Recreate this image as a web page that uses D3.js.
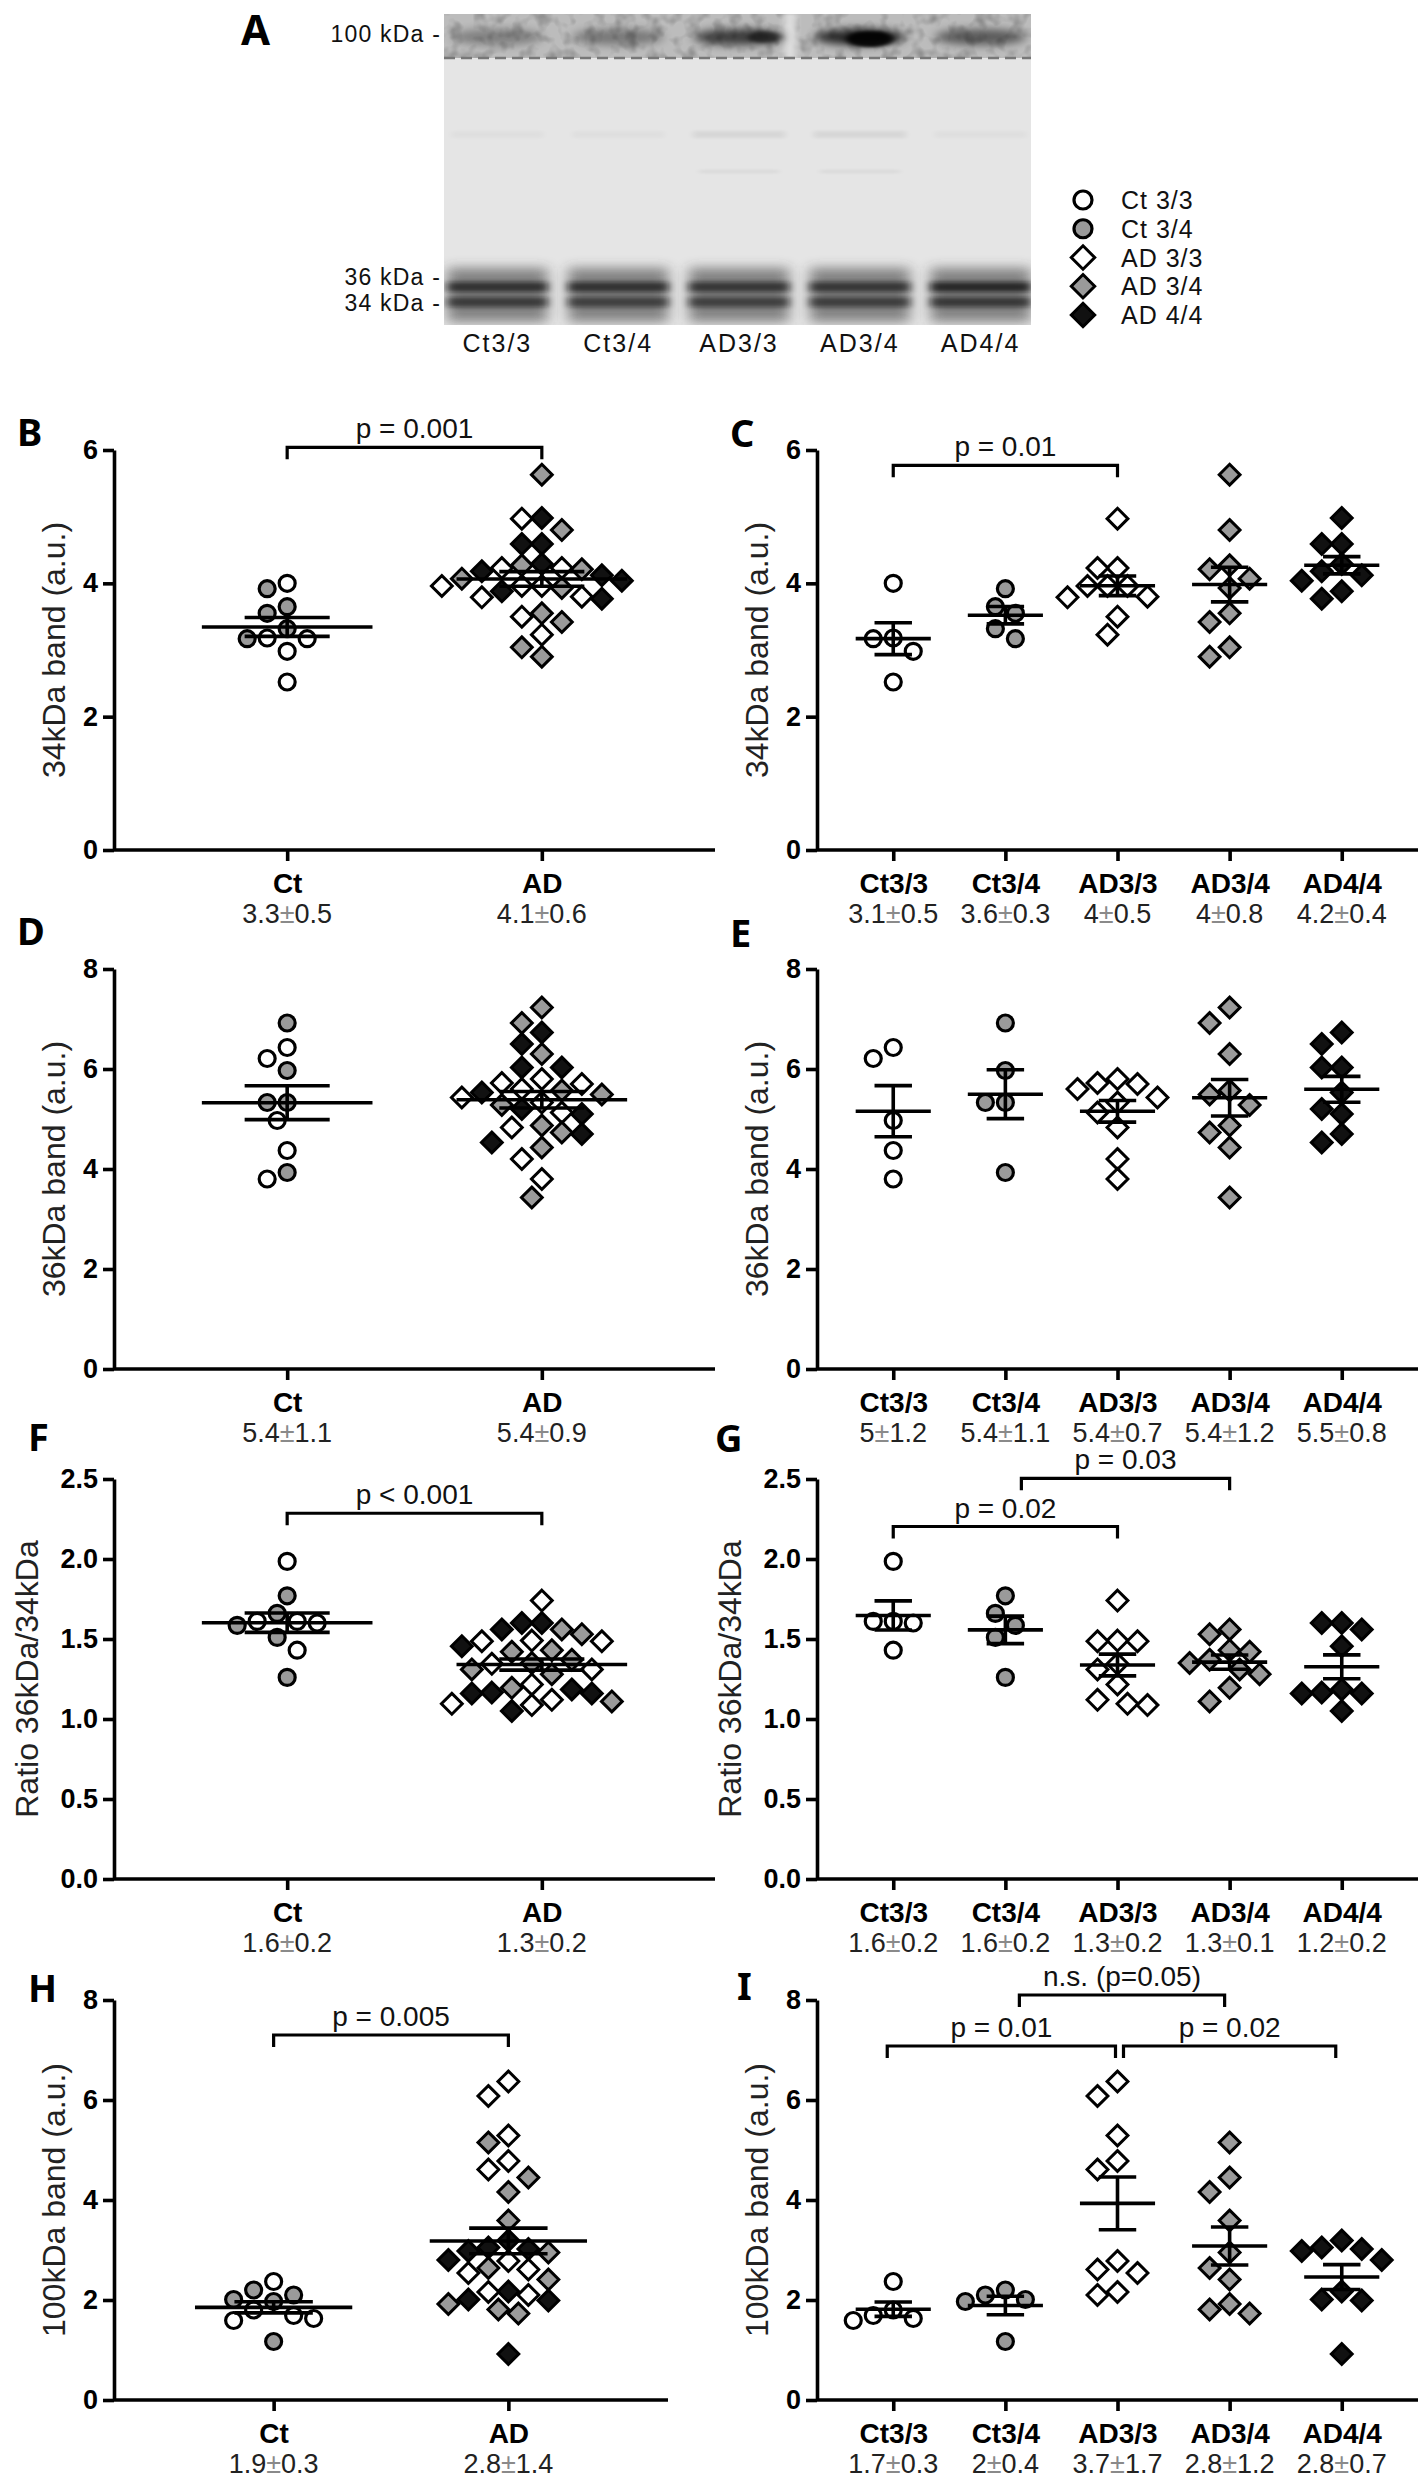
<!DOCTYPE html>
<html><head><meta charset="utf-8">
<script src="https://cdn.jsdelivr.net/npm/d3@7"></script>
<style>body{margin:0;background:#fff} svg{display:block}</style>
</head><body><svg id="fig" width="1422" height="2480"></svg>
<script>
// ---------------- DATA ----------------
const genotypes = ["Ct3/3","Ct3/4","AD3/3","AD3/4","AD4/4"];
const legendLabels = ["Ct 3/3","Ct 3/4","AD 3/3","AD 3/4","AD 4/4"];
const diagnoses = ["Ct","AD"];

// 34 kDa band (a.u.)
const b34_ct33 = [4.00, 3.17, 3.18, 2.98, 2.52];
const b34_ct34 = [3.92, 3.65, 3.55, 3.32, 3.17];
const b34_ad33 = [4.97, 4.23, 4.23, 3.96, 3.96, 3.96, 3.80, 3.79, 3.50, 3.23];
const b34_ad34 = [5.63, 4.80, 4.27, 4.21, 4.07, 3.93, 3.55, 3.42, 3.04, 2.90];
const b34_ad44 = [4.98, 4.59, 4.59, 4.29, 4.18, 4.12, 4.04, 3.88, 3.77];
// 36 kDa band (a.u.)
const b36_ct33 = [6.43, 6.21, 4.97, 4.37, 3.80];
const b36_ct34 = [6.92, 5.97, 5.33, 5.33, 3.93];
const b36_ad33 = [5.80, 5.72, 5.70, 5.60, 5.43, 5.33, 5.13, 4.83, 4.20, 3.80];
const b36_ad34 = [7.23, 6.92, 6.30, 5.57, 5.49, 5.28, 4.87, 4.73, 4.43, 3.43];
const b36_ad44 = [6.73, 6.50, 6.03, 6.03, 5.53, 5.20, 5.10, 4.70, 4.53];
// Ratio 36kDa/34kDa
const rat_ct33 = [1.985, 1.61, 1.61, 1.60, 1.43];
const rat_ct34 = [1.77, 1.66, 1.585, 1.51, 1.26];
const rat_ad33 = [1.74, 1.49, 1.486, 1.486, 1.345, 1.31, 1.216, 1.12, 1.095, 1.087];
const rat_ad34 = [1.56, 1.53, 1.43, 1.42, 1.37, 1.35, 1.31, 1.28, 1.195, 1.11];
const rat_ad44 = [1.60, 1.60, 1.56, 1.455, 1.185, 1.165, 1.16, 1.16, 1.05];
// 100 kDa band (a.u.)
const b100_ct33 = [2.37, 1.80, 1.69, 1.63, 1.59];
const b100_ct34 = [2.20, 2.10, 2.01, 1.97, 1.17];
const b100_ad33 = [6.37, 6.08, 5.29, 4.78, 4.61, 2.78, 2.61, 2.54, 2.16, 2.10];
const b100_ad34 = [5.15, 4.45, 4.16, 3.59, 2.95, 2.64, 2.41, 1.92, 1.81, 1.73];
const b100_ad44 = [3.19, 3.05, 3.02, 2.98, 2.80, 2.17, 2.01, 1.99, 0.92];

// tick values
const ticks34 = [0, 2, 4, 6];
const ticks36 = [0, 2, 4, 6, 8];
const ticksRatio = [0, 0.5, 1.0, 1.5, 2.0, 2.5];
const ticks100 = [0, 2, 4, 6, 8];

// summary labels under categories
const stats34_dx = ["3.3±0.5", "4.1±0.6"];
const stats34_gt = ["3.1±0.5", "3.6±0.3", "4±0.5", "4±0.8", "4.2±0.4"];
const stats36_dx = ["5.4±1.1", "5.4±0.9"];
const stats36_gt = ["5±1.2", "5.4±1.1", "5.4±0.7", "5.4±1.2", "5.5±0.8"];
const statsRatio_dx = ["1.6±0.2", "1.3±0.2"];
const statsRatio_gt = ["1.6±0.2", "1.6±0.2", "1.3±0.2", "1.3±0.1", "1.2±0.2"];
const stats100_dx = ["1.9±0.3", "2.8±1.4"];
const stats100_gt = ["1.7±0.3", "2±0.4", "3.7±1.7", "2.8±1.2", "2.8±0.7"];

// significance brackets (level in data units)
const brk34_dx = [{a:"Ct", b:"AD", level:6.04, label:"p = 0.001"}];
const brk34_gt = [{a:"Ct3/3", b:"AD3/3", level:5.77, label:"p = 0.01"}];
const brk36_dx = [];
const brk36_gt = [];
const brkRatio_dx = [{a:"Ct", b:"AD", level:2.286, label:"p < 0.001"}];
const brkRatio_gt = [{a:"Ct3/3", b:"AD3/3", level:2.203, label:"p = 0.02"},
                     {a:"Ct3/4", b:"AD3/4", level:2.504, label:"p = 0.03"}];
const brk100_dx = [{a:"Ct", b:"AD", level:7.30, label:"p = 0.005"}];
const brk100_gt = [{a:"Ct3/3", b:"AD3/3", level:7.08, label:"p = 0.01"},
                   {a:"AD3/3", b:"AD4/4", level:7.08, label:"p = 0.02"},
                   {a:"Ct3/4", b:"AD3/4", level:8.10, label:"n.s. (p=0.05)"}];

// western blot lanes (relative band intensities, panel A)
const laneNames = ["Ct3/3","Ct3/4","AD3/3","AD3/4","AD4/4"];
const band100Int = [0.40, 0.45, 0.85, 1.00, 0.65];
const band36Int = [0.85, 0.85, 0.80, 0.80, 0.95];
const band34Int = [0.75, 0.70, 0.70, 0.72, 0.78];
const markerLabels = ["100 kDa -", "36 kDa -", "34 kDa -"];

// ---------------- STYLE / LAYOUT ----------------
const fillOf = {"Ct3/3":"#ffffff","Ct3/4":"#9a9a9a","AD3/3":"#ffffff","AD3/4":"#9a9a9a","AD4/4":"#111111"};
const shapeOf = g => g.startsWith("Ct") ? "circle" : "diamond";
const FONT_AX = "'Liberation Sans', Arial, Helvetica, sans-serif";
const FONT_LET = "'Noto Sans', 'Open Sans', sans-serif";
const colX = [114, 817];
const rowBottom = [850, 1369, 1879, 2400];
const AXH = 400;
const bracketNudge = {"G1":[16,0], "I0":[-6,-2], "I1":[6,-6], "I2":[14,-5]};
const markerY = [42, 285, 311];

const svg = d3.select("#fig");
const defs = svg.append("defs");
function blurFilter(id, sx, sy){
  defs.append("filter").attr("id",id).attr("x","-50%").attr("y","-150%").attr("width","200%").attr("height","400%")
    .append("feGaussianBlur").attr("stdDeviation",`${sx} ${sy}`);
}
blurFilter("blurB", 5, 4);
blurFilter("blurL", 4, 2.2);
blurFilter("blurS", 7, 6);
blurFilter("blurF", 3, 1.5);
const noise = defs.append("filter").attr("id","noise").attr("x",0).attr("y",0).attr("width","100%").attr("height","100%");
noise.append("feTurbulence").attr("type","fractalNoise").attr("baseFrequency","0.08").attr("numOctaves",2).attr("seed",3).attr("result","t");
noise.append("feColorMatrix").attr("in","t").attr("type","matrix")
  .attr("values","0 0 0 0 0  0 0 0 0 0  0 0 0 0 0  0 0 0 -0.9 0.5");

function diamondPath(s){ return `M0,${-s}L${s},0L0,${s}L${-s},0Z`; }

function drawMarker(sel, g, r){
  if (shapeOf(g) === "circle") {
    sel.append("circle").attr("r", r).attr("fill", fillOf[g]).attr("stroke","#000").attr("stroke-width",3.2);
  } else {
    sel.append("path").attr("d", diamondPath(r*1.3)).attr("fill", fillOf[g]).attr("stroke","#000").attr("stroke-width",3).attr("stroke-linejoin","miter");
  }
}

// ---------------- PANEL A: blot ----------------
(function(){
  const gA = svg.append("g");
  const bx0 = 444, bx1 = 1031, by0 = 14, byDash = 58, by1 = 325;
  const lane = d3.scaleBand().domain(laneNames).range([437, 1041]);
  const lc = n => lane(n) + lane.bandwidth()/2;
  const clip = defs.append("clipPath").attr("id","blotclip");
  clip.append("rect").attr("x",bx0).attr("y",by0).attr("width",bx1-bx0).attr("height",by1-by0);
  const gB = gA.append("g").attr("clip-path","url(#blotclip)");
  // upper strip
  gB.append("rect").attr("x",bx0).attr("y",by0).attr("width",bx1-bx0).attr("height",byDash-by0).attr("fill","#bcbcbc");
  gB.append("rect").attr("x",bx0).attr("y",by0).attr("width",bx1-bx0).attr("height",byDash-by0).attr("filter","url(#noise)").attr("opacity",0.6);
  gB.append("rect").attr("x",784).attr("y",by0).attr("width",12).attr("height",byDash-by0).attr("fill","#dedede").attr("filter","url(#blurF)");
  laneNames.forEach((n,i)=>{
    gB.append("ellipse").attr("cx",lc(n)).attr("cy",37).attr("rx",46).attr("ry",8)
      .attr("fill","#000").attr("opacity",band100Int[i]*0.8).attr("filter","url(#blurB)");
  });
  gB.append("ellipse").attr("cx",lc("AD3/4")+10).attr("cy",39).attr("rx",24).attr("ry",8)
    .attr("fill","#000").attr("opacity",0.9).attr("filter","url(#blurF)");
  gB.append("ellipse").attr("cx",lc("AD3/3")+25).attr("cy",37).attr("rx",16).attr("ry",6)
    .attr("fill","#000").attr("opacity",0.5).attr("filter","url(#blurF)");
  // lower region
  gB.append("rect").attr("x",bx0).attr("y",byDash).attr("width",bx1-bx0).attr("height",by1-byDash).attr("fill","#e5e5e5");
  laneNames.forEach((n,i)=>{
    const c = lc(n);
    gB.append("rect").attr("x",c-46).attr("y",131).attr("width",92).attr("height",7).attr("fill","#000")
      .attr("opacity", i===2||i===3 ? 0.06 : 0.025).attr("filter","url(#blurF)");
    if (i===2 || i===3) {
      gB.append("rect").attr("x",c-40).attr("y",170).attr("width",80).attr("height",3).attr("fill","#000").attr("opacity",0.05).attr("filter","url(#blurF)");
    }
    gB.append("rect").attr("x",c-50).attr("y",268).attr("width",100).attr("height",54)
      .attr("fill","#333").attr("opacity",0.55).attr("filter","url(#blurS)");
    gB.append("rect").attr("x",c-50).attr("y",282).attr("width",100).attr("height",10)
      .attr("fill","#111").attr("opacity",band36Int[i]*0.8).attr("filter","url(#blurL)");
    gB.append("rect").attr("x",c-50).attr("y",297).attr("width",100).attr("height",10)
      .attr("fill","#111").attr("opacity",band34Int[i]*0.8).attr("filter","url(#blurL)");
  });
  gA.append("line").attr("x1",bx0).attr("x2",bx1).attr("y1",byDash).attr("y2",byDash)
    .attr("stroke","#777").attr("stroke-width",2.5).attr("stroke-dasharray","11,6");
  // marker labels
  gA.selectAll("text.mk").data(markerLabels).join("text").attr("class","mk")
    .attr("x",441).attr("y",(d,i)=>markerY[i]).attr("text-anchor","end")
    .style("font-family",FONT_AX).style("font-size","23px").style("letter-spacing","1.2px").style("fill","#111").text(d=>d);
  gA.selectAll("text.ln").data(laneNames).join("text").attr("class","ln")
    .attr("x",d=>lc(d)).attr("y",352).attr("text-anchor","middle")
    .style("font-family",FONT_AX).style("font-size","25px").style("letter-spacing","2px").style("fill","#111").text(d=>d);
  gA.append("text").attr("x",241).attr("y",45).text("A")
    .style("font-family",FONT_LET).style("font-weight","bold").style("font-size","42px");
  // legend
  const ly = d3.scalePoint().domain(genotypes).range([200, 315]);
  const lg = gA.selectAll("g.lg").data(genotypes).join("g").attr("class","lg")
    .attr("transform",d=>`translate(1083,${ly(d)})`);
  lg.each(function(d){ drawMarker(d3.select(this), d, 9); });
  lg.append("text").attr("x",38).attr("y",9).text((d,i)=>legendLabels[i])
    .style("font-family",FONT_AX).style("font-size","25px").style("letter-spacing","1px").style("fill","#111");
})();

// ---------------- scatter panels ----------------
function tag(arr, g){ return arr.map(v=>({v, g})); }

function swarm(pts, xc, y, d){
  const placed = [];
  pts.slice().sort((a,b)=>b.v-a.v).forEach(p=>{
    const py = y(p.v);
    for (let k=0;k<60;k++){
      const off = k===0 ? 0 : (k%2 ? -1 : 1) * Math.ceil(k/2) * d/2;
      const px = xc + off;
      if (placed.every(q => Math.hypot(q.x-px, q.y-py) >= d)) { placed.push({...p, x:px, y:py}); break; }
    }
  });
  return placed;
}

function drawPanel(def){
  const x0 = colX[def.col], w = def.w || 601, yb = rowBottom[def.row];
  const y = d3.scaleLinear().domain([0, def.max]).range([yb, yb-AXH]);
  const x = d3.scalePoint().domain(def.cats).range([x0, x0+w]).padding(0.68);
  const step = x.step();
  const g = svg.append("g");

  // axes
  const ya = g.append("g").attr("transform",`translate(${x0},0)`)
    .call(d3.axisLeft(y).tickValues(def.ticks).tickSize(11).tickSizeOuter(0).tickPadding(5).tickFormat(def.fmt));
  const xa = g.append("g").attr("transform",`translate(0,${yb})`)
    .call(d3.axisBottom(x).tickSize(11).tickSizeOuter(0).tickPadding(12));
  [ya, xa].forEach(a=>{
    a.selectAll("path,line").attr("stroke","#000").attr("stroke-width",3.6);
    a.selectAll("text").style("font-family",FONT_AX).style("font-weight","bold").style("font-size","28px").attr("fill","#000");
  });
  ya.selectAll("text").style("font-size","27px");
  xa.select(".domain").attr("d",`M${x0},0H${x0+w}`);

  // stats labels
  const st = g.selectAll("text.st").data(def.cats).join("text").attr("class","st")
    .attr("x",d=>x(d)).attr("y",yb+73).attr("text-anchor","middle")
    .style("font-family",FONT_AX).style("font-size","27px").style("fill","#222");
  st.each(function(d,i){
    const parts = def.stats[i].split("±");
    const t = d3.select(this);
    t.append("tspan").text(parts[0]);
    t.append("tspan").text("±").style("fill","#8a8a8a");
    t.append("tspan").text(parts[1]);
  });

  // points
  def.groups.forEach((pts,i)=>{
    const placed = swarm(pts, x(def.cats[i]), y, 20);
    const mg = g.append("g");
    mg.selectAll("g").data(placed).join("g").attr("transform",d=>`translate(${d.x},${d.y})`)
      .each(function(d){ drawMarker(d3.select(this), d.g, 8); });
    // mean + SEM
    const vals = pts.map(p=>p.v);
    const m = d3.mean(vals), sem = d3.deviation(vals)/Math.sqrt(vals.length);
    const xc = x(def.cats[i]), hw = 0.335*step, cw = 0.167*step;
    const lg = g.append("g").attr("stroke","#000").attr("stroke-width",3.6);
    lg.append("line").attr("x1",xc-hw).attr("x2",xc+hw).attr("y1",y(m)).attr("y2",y(m));
    lg.append("line").attr("x1",xc).attr("x2",xc).attr("y1",y(m-sem)).attr("y2",y(m+sem));
    [m-sem, m+sem].forEach(v=>lg.append("line").attr("x1",xc-cw).attr("x2",xc+cw).attr("y1",y(v)).attr("y2",y(v)));
  });

  // brackets
  def.brackets.forEach((b,i)=>{
    const nd = bracketNudge[def.id+i] || [0,0];
    const xa1 = x(b.a)+nd[0], xb1 = x(b.b)+nd[1], yy = y(b.level);
    g.append("path").attr("d",`M${xa1},${yy+12}V${yy}H${xb1}V${yy+12}`)
      .attr("fill","none").attr("stroke","#000").attr("stroke-width",3.2);
    g.append("text").attr("x",(xa1+xb1)/2).attr("y",yy-9).attr("text-anchor","middle").text(b.label)
      .style("font-family",FONT_AX).style("font-size","28px").style("fill","#111");
  });

  // y title
  const tx = x0 - (def.ratio ? 87 : 60);
  g.append("text").attr("transform",`translate(${tx},${yb-AXH/2}) rotate(-90)`)
    .attr("text-anchor","middle").attr("dominant-baseline","central").text(def.title)
    .style("font-family",FONT_AX).style("font-size","32px").style("fill","#222");
  // panel letter
  g.append("text").attr("x",def.lx).attr("y",def.ly).text(def.id)
    .style("font-family",FONT_LET).style("font-weight","bold").style("font-size","38px").style("fill","#000");
}

const dxGroups = (c33,c34,a33,a34,a44) => [
  [...tag(c33,"Ct3/3"), ...tag(c34,"Ct3/4")],
  [...tag(a33,"AD3/3"), ...tag(a34,"AD3/4"), ...tag(a44,"AD4/4")]
];
const gtGroups = (c33,c34,a33,a34,a44) => [
  tag(c33,"Ct3/3"), tag(c34,"Ct3/4"), tag(a33,"AD3/3"), tag(a34,"AD3/4"), tag(a44,"AD4/4")
];
const fInt = d3.format("d"), fDec = d3.format(".1f");

const panels = [
  {id:"B", col:0, row:0, lx:17, ly:446, cats:diagnoses, groups:dxGroups(b34_ct33,b34_ct34,b34_ad33,b34_ad34,b34_ad44),
   max:6, ticks:ticks34, fmt:fInt, stats:stats34_dx, brackets:brk34_dx, title:"34kDa band (a.u.)"},
  {id:"C", col:1, row:0, lx:730, ly:447, cats:genotypes, groups:gtGroups(b34_ct33,b34_ct34,b34_ad33,b34_ad34,b34_ad44),
   max:6, ticks:ticks34, fmt:fInt, stats:stats34_gt, brackets:brk34_gt, title:"34kDa band (a.u.)"},
  {id:"D", col:0, row:1, lx:17, ly:945, cats:diagnoses, groups:dxGroups(b36_ct33,b36_ct34,b36_ad33,b36_ad34,b36_ad44),
   max:8, ticks:ticks36, fmt:fInt, stats:stats36_dx, brackets:brk36_dx, title:"36kDa band (a.u.)"},
  {id:"E", col:1, row:1, lx:730, ly:947, cats:genotypes, groups:gtGroups(b36_ct33,b36_ct34,b36_ad33,b36_ad34,b36_ad44),
   max:8, ticks:ticks36, fmt:fInt, stats:stats36_gt, brackets:brk36_gt, title:"36kDa band (a.u.)"},
  {id:"F", col:0, row:2, lx:28, ly:1451, cats:diagnoses, groups:dxGroups(rat_ct33,rat_ct34,rat_ad33,rat_ad34,rat_ad44),
   max:2.5, ticks:ticksRatio, fmt:fDec, stats:statsRatio_dx, brackets:brkRatio_dx, title:"Ratio 36kDa/34kDa", ratio:true},
  {id:"G", col:1, row:2, lx:715, ly:1452, cats:genotypes, groups:gtGroups(rat_ct33,rat_ct34,rat_ad33,rat_ad34,rat_ad44),
   max:2.5, ticks:ticksRatio, fmt:fDec, stats:statsRatio_gt, brackets:brkRatio_gt, title:"Ratio 36kDa/34kDa", ratio:true},
  {id:"H", col:0, row:3, lx:28, ly:2002, w:554, cats:diagnoses, groups:dxGroups(b100_ct33,b100_ct34,b100_ad33,b100_ad34,b100_ad44),
   max:8, ticks:ticks100, fmt:fInt, stats:stats100_dx, brackets:brk100_dx, title:"100kDa band (a.u.)"},
  {id:"I", col:1, row:3, lx:737, ly:2000, cats:genotypes, groups:gtGroups(b100_ct33,b100_ct34,b100_ad33,b100_ad34,b100_ad44),
   max:8, ticks:ticks100, fmt:fInt, stats:stats100_gt, brackets:brk100_gt, title:"100kDa band (a.u.)"}
];
panels.forEach(drawPanel);
</script>
</body></html>
